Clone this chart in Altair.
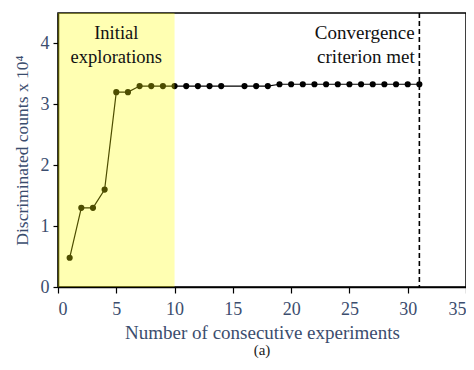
import altair as alt
import pandas as pd

experiments = list(range(1, 15)) + list(range(16, 32))
counts = [0.48, 1.3, 1.3, 1.6, 3.2, 3.2, 3.3, 3.3, 3.3, 3.3, 3.3, 3.3, 3.3, 3.3,
          3.3, 3.3, 3.3, 3.33, 3.33, 3.33, 3.33, 3.33, 3.33, 3.33, 3.33, 3.33, 3.33, 3.33, 3.33, 3.33]

explore_start, explore_end = 0, 10
convergence_x = 31

df = pd.DataFrame({"x": experiments, "y": counts})
FONT = "Liberation Serif"
AX = "#3b4d6e"

xs = alt.Scale(domain=[0, 35], nice=False)
ys = alt.Scale(domain=[0, 4.5], nice=False)

base = alt.Chart(df)
line = base.mark_line(color="black", strokeWidth=1.2).encode(
    x=alt.X("x:Q", scale=xs, axis=alt.Axis(
        title="Number of consecutive experiments", values=[0, 5, 10, 15, 20, 25, 30, 35],
        format="~g",
        grid=False, labelFont=FONT, labelFontSize=18, labelColor=AX, titleFont=FONT,
        titleFontSize=19, titleColor=AX, titleFontWeight="normal", domainColor="black",
        domainWidth=1.5, tickColor="black", tickSize=6, tickWidth=1.2, labelPadding=7,
        titlePadding=5)),
    y=alt.Y("y:Q", scale=ys, axis=alt.Axis(
        title="Discriminated counts x 10⁴", values=[0, 0.5, 1, 1.5, 2, 2.5, 3, 3.5, 4, 4.5],
        labelExpr="datum.value % 1 == 0 ? format(datum.value, 'd') : ''",
        grid=False, labelFont=FONT, labelFontSize=18, labelColor=AX, titleFont=FONT,
        titleFontSize=17.5, titleColor=AX, titleFontWeight="normal", domainColor="black",
        domainWidth=1.5, tickColor="black", tickSize=5, tickWidth=1.2, labelPadding=4,
        titlePadding=9)),
)
pts = base.mark_circle(color="black", size=38, opacity=1).encode(x="x:Q", y="y:Q")

rect_df = pd.DataFrame({"x0": [explore_start], "x1": [explore_end], "y0": [0], "y1": [4.5]})
rect = alt.Chart(rect_df).mark_rect(color="#ffff00", opacity=0.3).encode(
    x="x0:Q", x2="x1:Q", y="y0:Q", y2="y1:Q")

vline = alt.Chart(pd.DataFrame({"x": [convergence_x]})).mark_rule(
    color="black", strokeWidth=1.6, strokeDash=[5, 3]).encode(x="x:Q")

t1 = alt.Chart(pd.DataFrame({"x": [5], "y": [4.32]})).mark_text(
    text=["Initial", "explorations"], font=FONT, fontSize=18.5, color="#111111",
    baseline="top", lineHeight=24, align="center").encode(x="x:Q", y="y:Q")
t2 = alt.Chart(pd.DataFrame({"x": [30.6], "y": [4.32]})).mark_text(
    text=["Convergence", "criterion met"], font=FONT, fontSize=19, color="#111111",
    baseline="top", lineHeight=24, align="right").encode(x="x:Q", y="y:Q")

chart = alt.layer(line, pts, rect, vline, t1, t2).properties(
    width=408, height=274,
    autosize=alt.AutoSizeParams(type="none"),
    padding={"left": 50, "top": 5, "right": 0, "bottom": 75},
    title=alt.TitleParams("(a)", orient="bottom", font=FONT, fontSize=15,
                          fontWeight="normal", color="#222222", offset=1),
).configure(font=FONT).configure_view(stroke="black", strokeWidth=1.5)

chart.save("out.html", embed_options={"renderer": "svg", "actions": False})
